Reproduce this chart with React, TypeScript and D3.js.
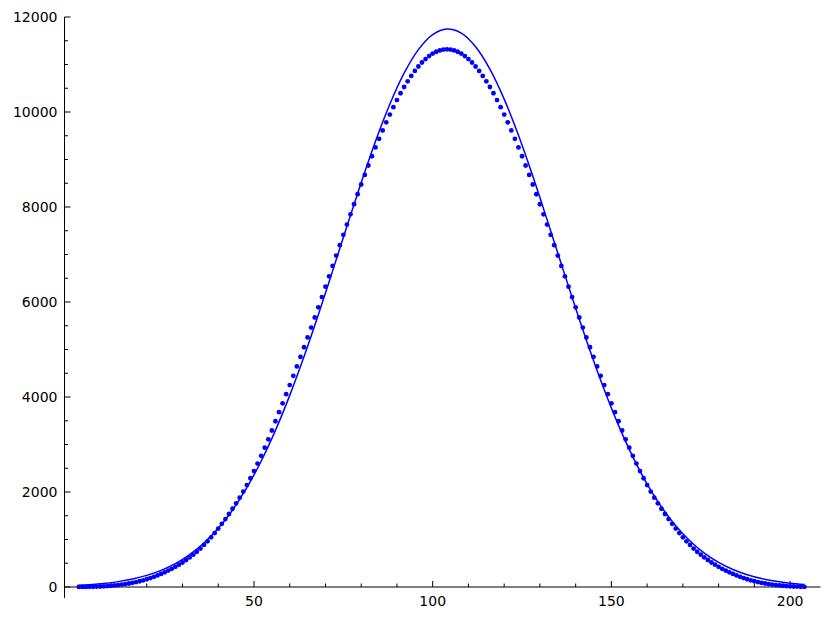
import React, { useEffect, useRef } from "react";
import * as d3 from "d3";

const WIDTH = 830;
const HEIGHT = 619;

// observed counts at x = 1 .. 204
const dotX = d3.range(1, 205);
const dotY = [
  1, 1, 2, 3, 5, 8, 11, 15, 20, 26, 33, 41, 51, 62, 74, 88, 103, 121, 141, 163,
  188, 215, 244, 275, 308, 345, 383, 425, 470, 516, 568, 622, 680, 742, 810, 885,
  962, 1045, 1135, 1230, 1330, 1430, 1537, 1647, 1762, 1880, 2010, 2146, 2290,
  2440, 2598, 2762, 2933, 3110, 3295, 3490, 3680, 3866, 4060, 4252, 4446, 4643,
  4843, 5047, 5254, 5462, 5674, 5888, 6104, 6322, 6540, 6759, 6978, 7196, 7414,
  7631, 7846, 8058, 8268, 8474, 8676, 8874, 9068, 9254, 9436, 9612, 9782, 9946,
  10102, 10252, 10395, 10526, 10646, 10760, 10864, 10958, 11042, 11115, 11177,
  11229, 11268, 11297, 11314,
  11320,
  11314, 11297, 11268, 11229, 11177, 11115, 11042, 10958, 10864, 10760,
  10646, 10526, 10395, 10252, 10102, 9946, 9782, 9612, 9436, 9254,
  9068, 8874, 8676, 8474, 8268, 8058, 7846, 7631, 7414, 7196,
  6978, 6759, 6540, 6322, 6104, 5888, 5674, 5462, 5254, 5047,
  4843, 4643, 4446, 4252, 4060, 3866, 3680, 3490, 3295, 3110,
  2933, 2762, 2598, 2440, 2290, 2146, 2010, 1880, 1762, 1647,
  1537, 1430, 1330, 1230, 1135, 1045, 962, 885, 810, 742,
  680, 622, 568, 516, 470, 425, 383, 345, 308, 275,
  244, 215, 188, 163, 141, 121, 103, 88, 74, 62,
  51, 41, 33, 26, 20, 15, 11, 8, 5, 3,
];

// fitted curve, sampled
const curveX = [
  1, 4, 8, 12, 16, 20, 24, 28, 32, 36, 40, 44, 48, 52, 56, 60, 64, 68, 72, 76,
  80, 84, 88, 92, 96, 100, 104, 108, 112, 116, 120, 124, 128, 132, 136, 140,
  144, 148, 152, 156, 160, 164, 168, 172, 176, 180, 184, 188, 192, 196, 200, 204,
];
const curveY = [
  35, 49, 75, 113, 168, 245, 351, 493, 682, 926, 1236, 1622, 2091, 2648, 3297,
  4034, 4851, 5732, 6655, 7594, 8517, 9386, 10164, 10818, 11314, 11629, 11746,
  11660, 11374, 10903, 10271, 9509, 8651, 7734, 6796, 5868, 4979, 4152, 3402,
  2740, 2168, 1686, 1289, 968, 715, 518, 369, 259, 178, 121, 80, 52,
];

const xMajor = [50, 100, 150, 200];
const xMinor = [10, 20, 30, 40, 60, 70, 80, 90, 110, 120, 130, 140, 160, 170, 180, 190];
const yMajor = [0, 2000, 4000, 6000, 8000, 10000, 12000];

const BLUE = "#0000ff";

const App = () => {
  const svgRef = useRef<SVGSVGElement>(null);

  useEffect(() => {
    const svg = d3.select(svgRef.current);
    svg.selectAll("*").remove();

    const x = d3.scaleLinear().domain([0, 200]).range([75.3, 790.1]);
    const y = d3.scaleLinear().domain([0, 12000]).range([587, 17]);

    const axisLeft = 64.5;
    const axisRight = 820.5;
    const axisBottom = 598;

    const g = svg.append("g");

    // axes lines
    g.append("line")
      .attr("x1", axisLeft).attr("x2", axisRight)
      .attr("y1", y(0)).attr("y2", y(0))
      .attr("stroke", "black").attr("stroke-width", 1);
    g.append("line")
      .attr("x1", axisLeft).attr("x2", axisLeft)
      .attr("y1", y(12000)).attr("y2", axisBottom)
      .attr("stroke", "black").attr("stroke-width", 1);

    // y ticks
    const yMinor = d3.range(500, 12000, 500).filter((v) => v % 2000 !== 0);
    g.selectAll(".ymaj")
      .data(yMajor)
      .join("line")
      .attr("class", "ymaj")
      .attr("x1", axisLeft).attr("x2", axisLeft + 6)
      .attr("y1", (d) => y(d)).attr("y2", (d) => y(d))
      .attr("stroke", "black");
    g.selectAll(".ymin")
      .data(yMinor)
      .join("line")
      .attr("class", "ymin")
      .attr("x1", axisLeft).attr("x2", axisLeft + 3.5)
      .attr("y1", (d) => y(d)).attr("y2", (d) => y(d))
      .attr("stroke", "black");
    g.selectAll(".ylab")
      .data(yMajor)
      .join("text")
      .attr("class", "ylab")
      .attr("x", axisLeft - 7)
      .attr("y", (d) => y(d))
      .attr("dy", "0.36em")
      .attr("text-anchor", "end")
      .attr("font-family", "DejaVu Sans")
      .attr("font-size", 14)
      .text((d) => String(d));

    // x ticks
    g.selectAll(".xmaj")
      .data(xMajor)
      .join("line")
      .attr("class", "xmaj")
      .attr("x1", (d) => x(d)).attr("x2", (d) => x(d))
      .attr("y1", y(0)).attr("y2", y(0) - 6)
      .attr("stroke", "black");
    g.selectAll(".xmin")
      .data(xMinor)
      .join("line")
      .attr("class", "xmin")
      .attr("x1", (d) => x(d)).attr("x2", (d) => x(d))
      .attr("y1", y(0)).attr("y2", y(0) - 3.5)
      .attr("stroke", "black");
    g.selectAll(".xlab")
      .data(xMajor)
      .join("text")
      .attr("class", "xlab")
      .attr("x", (d) => x(d))
      .attr("y", 605.5)
      .attr("text-anchor", "middle")
      .attr("font-family", "DejaVu Sans")
      .attr("font-size", 14)
      .text((d) => String(d));

    // fitted curve
    const line = d3
      .line<number>()
      .x((d, i) => x(curveX[i]))
      .y((d) => y(d))
      .curve(d3.curveCatmullRom);
    g.append("path")
      .attr("d", line(curveY))
      .attr("fill", "none")
      .attr("stroke", BLUE)
      .attr("stroke-width", 1.5);

    // dots
    g.selectAll(".dot")
      .data(dotY)
      .join("circle")
      .attr("class", "dot")
      .attr("cx", (d, i) => x(dotX[i]))
      .attr("cy", (d) => y(d))
      .attr("r", 2.4)
      .attr("fill", BLUE);
  }, []);

  return (
    <svg
      ref={svgRef}
      width={WIDTH}
      height={HEIGHT}
      style={{ position: "absolute", left: 0, top: 0, background: "white", display: "block" }}
    ></svg>
  );
};

export default App;
